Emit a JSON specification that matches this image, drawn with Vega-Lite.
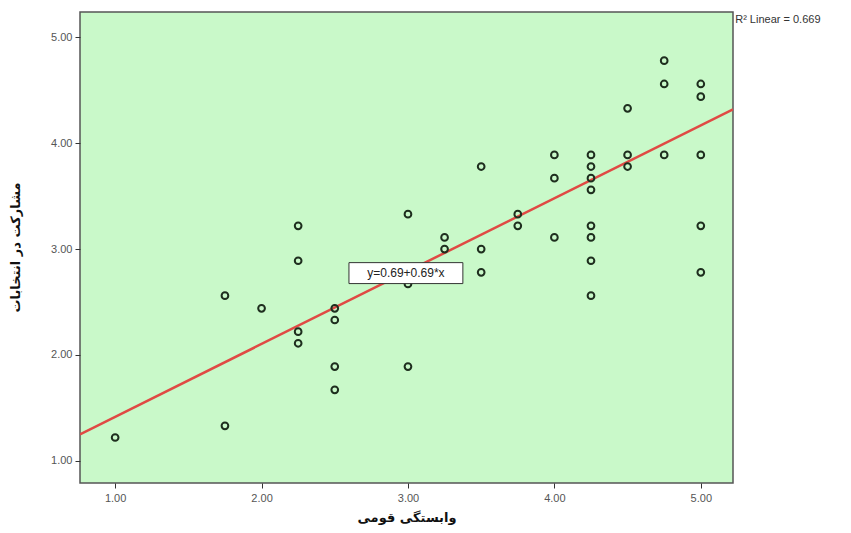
{
  "$schema": "https://vega.github.io/schema/vega-lite/v6.json",
  "autosize": {"type": "none"},
  "padding": {"left": 80, "top": 12, "right": 118, "bottom": 50},
  "width": 653,
  "height": 471,
  "background": "white",
  "config": {
    "view": {"fill": "#c9f9c9", "stroke": "#555555", "strokeWidth": 1.5},
    "axis": {
      "grid": false,
      "domain": false,
      "tickColor": "#333333",
      "tickSize": 5,
      "labelFont": "Liberation Sans",
      "labelFontSize": 11,
      "labelColor": "#555555",
      "titleFont": "DejaVu Sans",
      "titleFontSize": 13,
      "titleFontWeight": "bold",
      "titleColor": "#111111"
    }
  },
  "datasets": {
    "pts": [
      {"x": 1.0, "y": 1.22},
      {"x": 1.75, "y": 1.33}, {"x": 1.75, "y": 2.56},
      {"x": 2.0, "y": 2.44},
      {"x": 2.25, "y": 3.22}, {"x": 2.25, "y": 2.89}, {"x": 2.25, "y": 2.22}, {"x": 2.25, "y": 2.11},
      {"x": 2.5, "y": 2.44}, {"x": 2.5, "y": 2.33}, {"x": 2.5, "y": 1.89}, {"x": 2.5, "y": 1.67},
      {"x": 3.0, "y": 3.33}, {"x": 3.0, "y": 2.67}, {"x": 3.0, "y": 1.89},
      {"x": 3.25, "y": 3.11}, {"x": 3.25, "y": 3.0},
      {"x": 3.5, "y": 3.78}, {"x": 3.5, "y": 3.0}, {"x": 3.5, "y": 2.78},
      {"x": 3.75, "y": 3.33}, {"x": 3.75, "y": 3.22},
      {"x": 4.0, "y": 3.89}, {"x": 4.0, "y": 3.67}, {"x": 4.0, "y": 3.11},
      {"x": 4.25, "y": 3.89}, {"x": 4.25, "y": 3.78}, {"x": 4.25, "y": 3.67}, {"x": 4.25, "y": 3.56},
      {"x": 4.25, "y": 3.22}, {"x": 4.25, "y": 3.11}, {"x": 4.25, "y": 2.89}, {"x": 4.25, "y": 2.56},
      {"x": 4.5, "y": 4.33}, {"x": 4.5, "y": 3.89}, {"x": 4.5, "y": 3.78},
      {"x": 4.75, "y": 4.78}, {"x": 4.75, "y": 4.56}, {"x": 4.75, "y": 3.89},
      {"x": 5.0, "y": 4.56}, {"x": 5.0, "y": 4.44}, {"x": 5.0, "y": 3.89}, {"x": 5.0, "y": 3.22}, {"x": 5.0, "y": 2.78}
    ],
    "fit": [
      {"x": 0.76, "y": 1.25},
      {"x": 5.22, "y": 4.32}
    ],
    "eqbox": [
      {"x": 2.597, "x2": 3.375, "y": 2.674, "y2": 2.872, "xc": 2.986, "yc": 2.773, "label": "y=0.69+0.69*x"}
    ],
    "r2": [
      {"x": 5.235, "y": 5.165, "label": "R² Linear = 0.669"}
    ]
  },
  "layer": [
    {
      "data": {"name": "fit"},
      "mark": {"type": "line", "color": "#e04a44", "strokeWidth": 2.5, "clip": true},
      "encoding": {
        "x": {
          "field": "x", "type": "quantitative",
          "scale": {"domain": [0.76, 5.22], "nice": false, "zero": false},
          "axis": {"values": [1, 2, 3, 4, 5], "format": ".2f", "title": "وابستگی قومی", "titlePadding": 8, "labelPadding": 4}
        },
        "y": {
          "field": "y", "type": "quantitative",
          "scale": {"domain": [0.79, 5.24], "nice": false, "zero": false},
          "axis": {"values": [1, 2, 3, 4, 5], "format": ".2f", "title": "مشارکت در انتخابات", "titleX": -58, "titleY": 235, "labelPadding": 3}
        }
      }
    },
    {
      "data": {"name": "pts"},
      "mark": {"type": "point", "shape": "circle", "filled": false, "stroke": "#1e2e1e", "strokeWidth": 2, "size": 45, "opacity": 1},
      "encoding": {
        "x": {"field": "x", "type": "quantitative"},
        "y": {"field": "y", "type": "quantitative"}
      }
    },
    {
      "data": {"name": "eqbox"},
      "mark": {"type": "rect", "fill": "white", "stroke": "#333333", "strokeWidth": 1},
      "encoding": {
        "x": {"field": "x", "type": "quantitative"},
        "x2": {"field": "x2"},
        "y": {"field": "y", "type": "quantitative"},
        "y2": {"field": "y2"}
      }
    },
    {
      "data": {"name": "eqbox"},
      "mark": {"type": "text", "font": "Liberation Sans", "fontSize": 12, "color": "#222222", "align": "center", "baseline": "middle"},
      "encoding": {
        "x": {"field": "xc", "type": "quantitative"},
        "y": {"field": "yc", "type": "quantitative"},
        "text": {"field": "label"}
      }
    },
    {
      "data": {"name": "r2"},
      "mark": {"type": "text", "font": "Liberation Sans", "fontSize": 11, "color": "#333333", "align": "left", "baseline": "middle", "clip": false},
      "encoding": {
        "x": {"field": "x", "type": "quantitative"},
        "y": {"field": "y", "type": "quantitative"},
        "text": {"field": "label"}
      }
    }
  ]
}
